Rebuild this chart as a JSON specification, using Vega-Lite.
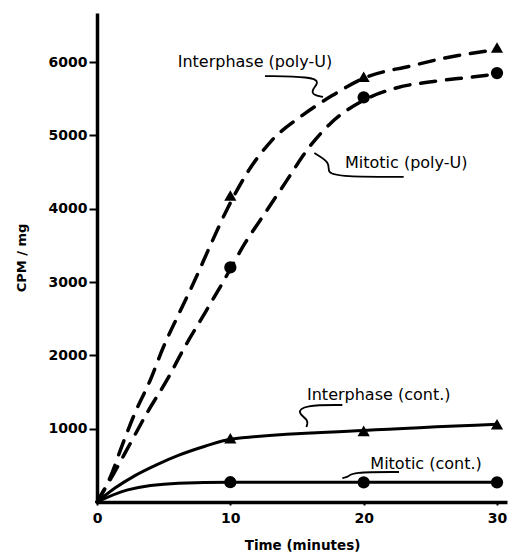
{
  "$schema": "https://vega.github.io/schema/vega-lite/v6.json",
  "width": 410,
  "height": 489,
  "autosize": {"type": "none"},
  "padding": {"left": 97, "top": 13, "right": 1, "bottom": 53},
  "background": "white",
  "config": {
    "view": {"stroke": null},
    "font": "DejaVu Sans"
  },
  "datasets": {
    "curves": [
      {"s": "ip", "t": 0, "v": 0}, {"s": "ip", "t": 1.0, "v": 340}, {"s": "ip", "t": 1.9, "v": 780}, {"s": "ip", "t": 2.85, "v": 1215}, {"s": "ip", "t": 4.0, "v": 1665}, {"s": "ip", "t": 4.95, "v": 2100}, {"s": "ip", "t": 6.2, "v": 2590}, {"s": "ip", "t": 7.35, "v": 3030}, {"s": "ip", "t": 8.5, "v": 3500}, {"s": "ip", "t": 9.75, "v": 3990}, {"s": "ip", "t": 11.3, "v": 4500}, {"s": "ip", "t": 13.1, "v": 4930}, {"s": "ip", "t": 15.45, "v": 5280}, {"s": "ip", "t": 17.7, "v": 5550}, {"s": "ip", "t": 20, "v": 5780}, {"s": "ip", "t": 23.6, "v": 5950}, {"s": "ip", "t": 26.2, "v": 6060}, {"s": "ip", "t": 30, "v": 6170},
      {"s": "mp", "t": 0, "v": 0}, {"s": "mp", "t": 1.2, "v": 370}, {"s": "mp", "t": 2.5, "v": 800}, {"s": "mp", "t": 3.8, "v": 1230}, {"s": "mp", "t": 5.25, "v": 1665}, {"s": "mp", "t": 6.6, "v": 2120}, {"s": "mp", "t": 8.1, "v": 2580}, {"s": "mp", "t": 9.45, "v": 3000}, {"s": "mp", "t": 11.1, "v": 3530}, {"s": "mp", "t": 12.75, "v": 3980}, {"s": "mp", "t": 14.25, "v": 4390}, {"s": "mp", "t": 15.75, "v": 4800}, {"s": "mp", "t": 17.55, "v": 5170}, {"s": "mp", "t": 20, "v": 5480}, {"s": "mp", "t": 22.5, "v": 5650}, {"s": "mp", "t": 25.4, "v": 5740}, {"s": "mp", "t": 28.3, "v": 5800}, {"s": "mp", "t": 30, "v": 5840},
      {"s": "ic", "t": 0, "v": 0}, {"s": "ic", "t": 1.35, "v": 190}, {"s": "ic", "t": 2.85, "v": 360}, {"s": "ic", "t": 4.5, "v": 510}, {"s": "ic", "t": 6.1, "v": 635}, {"s": "ic", "t": 8.1, "v": 760}, {"s": "ic", "t": 10, "v": 855}, {"s": "ic", "t": 20, "v": 975}, {"s": "ic", "t": 30, "v": 1060},
      {"s": "mc", "t": 0, "v": 0}, {"s": "mc", "t": 2.3, "v": 165}, {"s": "mc", "t": 6.1, "v": 255}, {"s": "mc", "t": 10, "v": 270}, {"s": "mc", "t": 20, "v": 268}, {"s": "mc", "t": 30, "v": 268}
    ],
    "points": [
      {"s": "ip", "t": 10, "v": 4180}, {"s": "ip", "t": 20, "v": 5800}, {"s": "ip", "t": 30, "v": 6200},
      {"s": "mp", "t": 10, "v": 3200}, {"s": "mp", "t": 20, "v": 5520}, {"s": "mp", "t": 30, "v": 5850},
      {"s": "ic", "t": 10, "v": 870}, {"s": "ic", "t": 20, "v": 970}, {"s": "ic", "t": 30, "v": 1060},
      {"s": "mc", "t": 10, "v": 270}, {"s": "mc", "t": 20, "v": 268}, {"s": "mc", "t": 30, "v": 268}
    ],
    "leaders": [
      {"id": "a", "i": 0, "t": 12.6, "v": 5810}, {"id": "a", "i": 1, "t": 16.1, "v": 5800}, {"id": "a", "i": 2, "t": 16.7, "v": 5730}, {"id": "a", "i": 3, "t": 16.1, "v": 5620}, {"id": "a", "i": 4, "t": 16.2, "v": 5550}, {"id": "a", "i": 5, "t": 16.95, "v": 5525},
      {"id": "b", "i": 0, "t": 16.3, "v": 4760}, {"id": "b", "i": 1, "t": 17.55, "v": 4625}, {"id": "b", "i": 2, "t": 17.2, "v": 4490}, {"id": "b", "i": 3, "t": 18.3, "v": 4435}, {"id": "b", "i": 4, "t": 23.0, "v": 4435},
      {"id": "c", "i": 0, "t": 18.4, "v": 1323}, {"id": "c", "i": 1, "t": 15.5, "v": 1323}, {"id": "c", "i": 2, "t": 15.0, "v": 1214}, {"id": "c", "i": 3, "t": 15.9, "v": 1119}, {"id": "c", "i": 4, "t": 15.7, "v": 1023},
      {"id": "d", "i": 0, "t": 22.65, "v": 409}, {"id": "d", "i": 1, "t": 19.05, "v": 409}, {"id": "d", "i": 2, "t": 18.9, "v": 341}, {"id": "d", "i": 3, "t": 18.4, "v": 327}
    ],
    "labels": [
      {"t": 6.05, "v": 6000, "label": "Interphase (poly-U)"},
      {"t": 18.6, "v": 4625, "label": "Mitotic (poly-U)"},
      {"t": 15.75, "v": 1460, "label": "Interphase (cont.)"},
      {"t": 20.5, "v": 520, "label": "Mitotic (cont.)"}
    ]
  },
  "encoding": {
    "x": {"field": "t", "type": "quantitative", "scale": {"domain": [0, 30.75], "nice": false, "zero": true},
      "axis": {"title": "Time  (minutes)", "values": [0, 10, 20, 30], "grid": false, "ticks": true, "tickSize": 3, "tickWidth": 2, "tickColor": "black", "labelPadding": 6, "labelFontSize": 14, "labelFontWeight": "bold", "labelColor": "black", "domainColor": "black", "domainWidth": 3.5, "titleFontSize": 13.5, "titleFontWeight": "bold", "titleColor": "black", "titlePadding": 13, "labelFlush": false}},
    "y": {"field": "v", "type": "quantitative", "scale": {"domain": [0, 6670], "nice": false},
      "axis": {"title": "CPM / mg", "values": [1000, 2000, 3000, 4000, 5000, 6000], "format": "d", "grid": false, "tickSize": 8, "tickWidth": 2, "tickColor": "black", "labelPadding": 2, "labelFontSize": 14, "labelFontWeight": "bold", "labelColor": "black", "domainColor": "black", "domainWidth": 3.5, "titleFontSize": 13, "titleFontWeight": "bold", "titleColor": "black", "titlePadding": 20}}
  },
  "layer": [
    {
      "data": {"name": "curves"},
      "transform": [{"filter": "datum.s == 'ip' || datum.s == 'mp'"}],
      "mark": {"type": "line", "interpolate": "monotone", "color": "black", "strokeWidth": 3.5, "strokeDash": [15, 11], "strokeCap": "round"},
      "encoding": {"detail": {"field": "s"}}
    },
    {
      "data": {"name": "curves"},
      "transform": [{"filter": "datum.s == 'ic' || datum.s == 'mc'"}],
      "mark": {"type": "line", "interpolate": "monotone", "color": "black", "strokeWidth": 3},
      "encoding": {"detail": {"field": "s"}}
    },
    {
      "data": {"name": "points"},
      "transform": [{"filter": "datum.s == 'ip' || datum.s == 'ic'"}],
      "mark": {"type": "point", "shape": "triangle-up", "filled": true, "color": "black", "opacity": 1, "size": 150}
    },
    {
      "data": {"name": "points"},
      "transform": [{"filter": "datum.s == 'mp' || datum.s == 'mc'"}],
      "mark": {"type": "point", "shape": "circle", "filled": true, "color": "black", "opacity": 1, "size": 150}
    },
    {
      "data": {"name": "leaders"},
      "mark": {"type": "line", "interpolate": "basis", "color": "black", "strokeWidth": 1.8},
      "encoding": {"detail": {"field": "id"}, "order": {"field": "i", "type": "quantitative"}}
    },
    {
      "data": {"name": "labels"},
      "mark": {"type": "text", "align": "left", "baseline": "middle", "fontSize": 16, "color": "black"},
      "encoding": {"text": {"field": "label"}}
    },
    {
      "data": {"values": [{"v": 6670}]},
      "mark": {"type": "rule", "color": "black", "strokeWidth": 3},
      "encoding": {"y": {"field": "v", "type": "quantitative"}, "x": {"datum": 0}, "x2": {"datum": 30.75}}
    }
  ]
}
